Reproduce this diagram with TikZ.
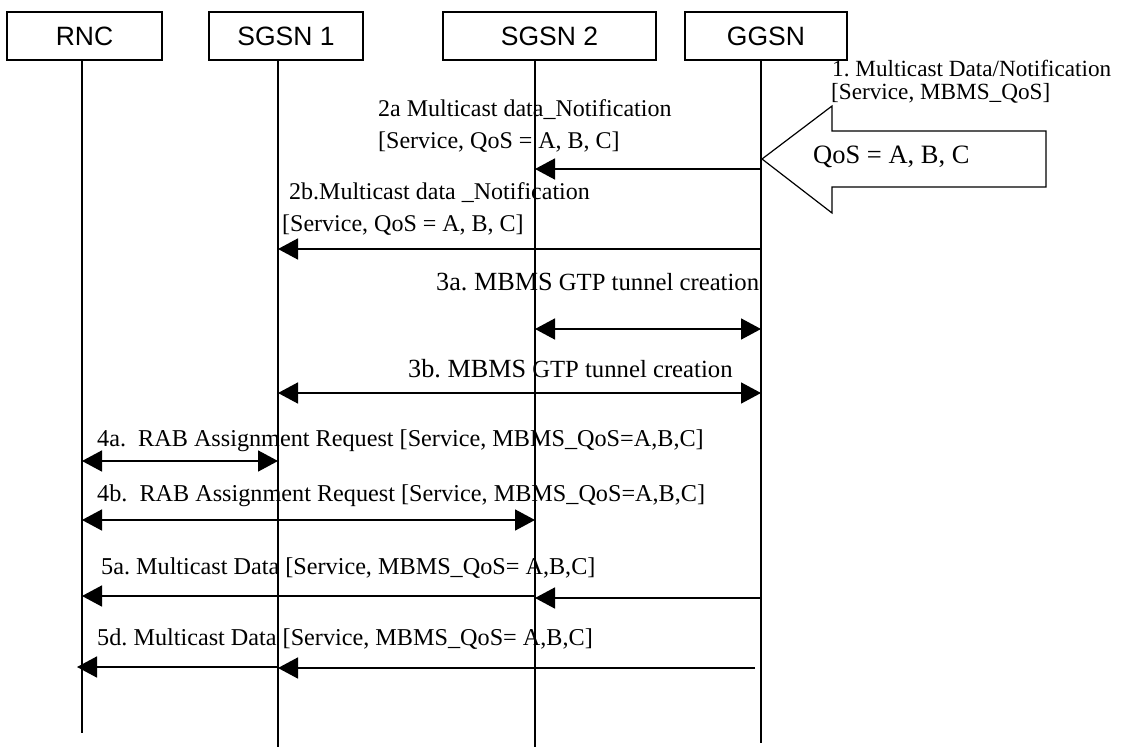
\documentclass[tikz,border=0pt]{standalone}
\usepackage{fontspec}
\setmainfont{Liberation Serif}
\newfontfamily\arialf{Liberation Sans}
\usetikzlibrary{arrows.meta}
\frenchspacing
\begin{document}
\frenchspacing
\begin{tikzpicture}[x=1pt,y=-1pt,
  box/.style={draw, line width=1.2pt, inner sep=0pt, minimum height=48pt,
    font=\arialf\fontsize{26.5}{30}\selectfont},
  life/.style={line width=1.3pt},
  msg/.style={line width=1.6pt, -{Triangle[length=20pt,width=21pt]}},
  dmsg/.style={line width=1.6pt, {Triangle[length=20pt,width=21pt]}-{Triangle[length=20pt,width=21pt]}},
  lbl/.style={anchor=base west, inner sep=0pt, font=\fontsize{24.2}{28}\selectfont},
  lblb/.style={anchor=base west, inner sep=0pt, font=\fontsize{24}{28}\selectfont},
  lbls/.style={anchor=base west, inner sep=0pt, font=\fontsize{23.2}{26}\selectfont},
  bigarrow/.style={draw, line width=1.2pt, line join=miter}
]
\useasboundingbox[fill=white] (0,0) rectangle (1123,749);

% header boxes
\node[box, minimum width=155pt] (rnc)   at (84.5,36)  {RNC};
\node[box, minimum width=154pt] (sgsn1) at (286,36)   {SGSN 1};
\node[box, minimum width=213pt] (sgsn2) at (549.5,36) {SGSN 2};
\node[box, minimum width=162pt] (ggsn)  at (766,36)   {GGSN};

% lifelines
\coordinate (rT) at (82,60);   \coordinate (rB) at (82,733);
\coordinate (s1T) at (278,60); \coordinate (s1B) at (278,747);
\coordinate (s2T) at (535,60); \coordinate (s2B) at (535,747);
\coordinate (gT) at (761,60);  \coordinate (gB) at (761,743);
\draw[life] (rT) -- (rB);
\draw[life] (s1T) -- (s1B);
\draw[life] (s2T) -- (s2B);
\draw[life] (gT) -- (gB);

% big arrow 1
\coordinate (bt) at (762,159);
\draw[bigarrow] (bt) -- (832,106) -- (832,131) -- (1046,131) -- (1046,187) -- (832,187) -- (832,213) -- cycle;
\node[lbls] (m1a) at (832,77)  {1. Multicast Data/Notification};
\node[lbls] (m1b) at (831,100) {[Service, MBMS\_QoS]};
\node[anchor=base west, inner sep=0pt, font=\fontsize{26.5}{30}\selectfont] (qos) at (813,163) {QoS = A, B, C};

% 2a
\node[lblb] (m2a1) at (378,117) {2a Multicast data\_Notification};
\node[lblb] (m2a2) at (378,148) {[Service, QoS = A, B, C]};
\coordinate (g2a) at (761,169); \coordinate (s2a) at (535,169);
\draw[msg] (g2a) -- (s2a);

% 2b
\node[lblb] (m2b1) at (289,199) {2b.Multicast data \_Notification};
\node[lblb] (m2b2) at (282,231) {[Service, QoS = A, B, C]};
\coordinate (g2b) at (761,249); \coordinate (s2b) at (278,249);
\draw[msg] (g2b) -- (s2b);

% 3a
\node[anchor=base west, inner sep=0pt] (m3a) at (436,290)
  {\fontsize{26.2}{30}\selectfont 3a. MBMS\fontsize{24.7}{28}\selectfont{} GTP tunnel creation};
\coordinate (s3a) at (535,329); \coordinate (g3a) at (761,329);
\draw[dmsg] (s3a) -- (g3a);

% 3b
\node[anchor=base west, inner sep=0pt] (m3b) at (408,377)
  {\fontsize{26.2}{30}\selectfont 3b. MBMS\fontsize{24.7}{28}\selectfont{} GTP tunnel creation};
\coordinate (s3b) at (278,393); \coordinate (g3b) at (761,393);
\draw[dmsg] (s3b) -- (g3b);

% 4a
\node[lbl] (m4a) at (97,446) {4a.\ \ RAB Assignment Request [Service, MBMS\_QoS=A,B,C]};
\coordinate (r4a) at (82,461); \coordinate (s4a) at (278,461);
\draw[dmsg] (r4a) -- (s4a);

% 4b
\node[lbl] (m4b) at (97,501) {4b.\ \ RAB Assignment Request [Service, MBMS\_QoS=A,B,C]};
\coordinate (r4b) at (82,520); \coordinate (s4b) at (535,520);
\draw[dmsg] (r4b) -- (s4b);

% 5a
\node[lbl] (m5a) at (101,574) {5a. Multicast Data [Service, MBMS\_QoS= A,B,C]};
\coordinate (g5a) at (761,598); \coordinate (s5a) at (535,598);
\coordinate (s5aL) at (535,596); \coordinate (r5a) at (82,596);
\draw[msg] (g5a) -- (s5a);
\draw[msg] (s5aL) -- (r5a);

% 5d
\node[lbl] (m5d) at (97,645) {5d. Multicast Data [Service, MBMS\_QoS= A,B,C]};
\coordinate (g5d) at (755,668); \coordinate (s5d) at (278,668);
\coordinate (s5dL) at (278,667); \coordinate (r5d) at (77,667);
\draw[msg] (g5d) -- (s5d);
\draw[msg] (s5dL) -- (r5d);
\end{tikzpicture}
\end{document}
